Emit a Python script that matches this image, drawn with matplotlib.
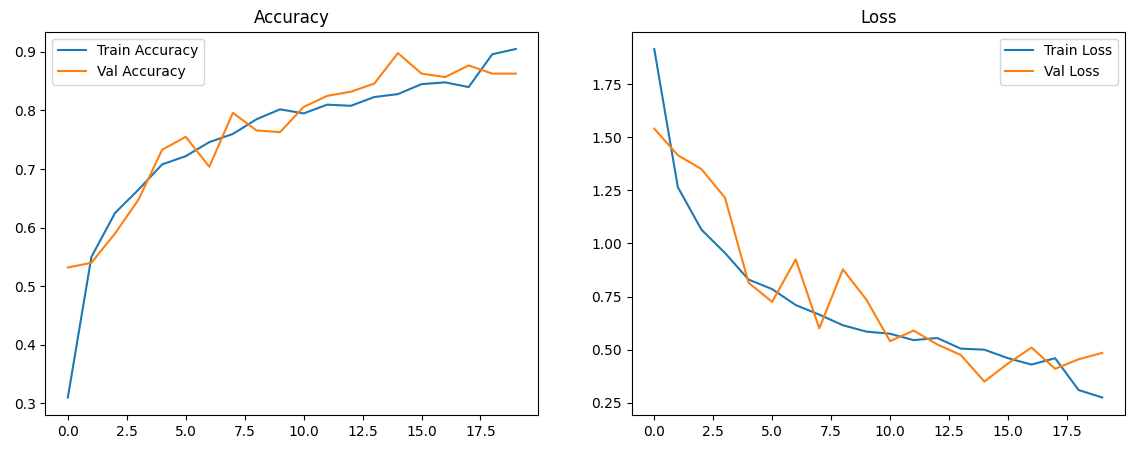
import matplotlib
matplotlib.use("Agg")
import matplotlib.pyplot as plt

epochs = list(range(20))
train_acc = [0.31, 0.55, 0.625, 0.665, 0.708, 0.722, 0.746, 0.76, 0.785, 0.802, 0.795, 0.81, 0.808, 0.823, 0.828, 0.845, 0.848, 0.84, 0.896, 0.905]
val_acc = [0.532, 0.54, 0.59, 0.648, 0.733, 0.755, 0.704, 0.796, 0.766, 0.763, 0.806, 0.825, 0.832, 0.846, 0.898, 0.863, 0.857, 0.877, 0.863, 0.863]
train_loss = [1.915, 1.265, 1.065, 0.955, 0.83, 0.785, 0.71, 0.665, 0.615, 0.585, 0.575, 0.545, 0.555, 0.505, 0.5, 0.46, 0.43, 0.46, 0.31, 0.275]
val_loss = [1.54, 1.415, 1.35, 1.215, 0.815, 0.725, 0.925, 0.6, 0.878, 0.735, 0.54, 0.59, 0.525, 0.475, 0.35, 0.435, 0.51, 0.41, 0.455, 0.485]

fig, (ax1, ax2) = plt.subplots(1, 2, figsize=(11.36, 4.51), dpi=100)
fig.subplots_adjust(left=0.04, right=0.99, top=0.93, bottom=0.08, wspace=0.19)

ax1.plot(epochs, train_acc, label="Train Accuracy")
ax1.plot(epochs, val_acc, label="Val Accuracy")
ax1.set_title("Accuracy")
ax1.legend(loc="upper left")

ax2.plot(epochs, train_loss, label="Train Loss")
ax2.plot(epochs, val_loss, label="Val Loss")
ax2.set_title("Loss")
ax2.legend(loc="upper right")

fig.savefig("out.png")
